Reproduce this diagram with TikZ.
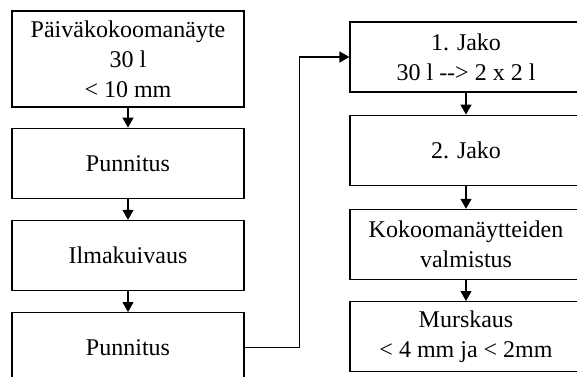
\documentclass[tikz,border=0pt]{standalone}
\usepackage{fontspec}
\setmainfont{Liberation Serif}
\usetikzlibrary{arrows.meta,positioning}

\begin{document}
\begin{tikzpicture}[x=1pt,y=-1pt,->,>={Triangle[length=10pt,width=11pt]},line width=1.2pt,
  node distance=21pt,
  box/.style={draw,rectangle,minimum width=232pt,minimum height=70pt,align=center,
    inner sep=2pt,font=\fontsize{24}{30}\selectfont}]
	  \useasboundingbox (0,0) rectangle (577,376);
	  \clip (0,0) rectangle (577,376);
	  \node[box,minimum height=96pt] (A) at (128,59) {Päiväkokoomanäyte\\30 l\\< 10 mm};
	  \node[box] (B) [below=20pt of A] {Punnitus};
	  \node[box] (C) [below=of B] {Ilmakuivaus};
	  \node[box] (D) [below=of C] {Punnitus};
	  \node[box] (E) at (466,57) {1. Jako\\30 l -{}-> 2 x 2 l};
	  \node[box] (F) [below=22pt of E] {2. Jako};
	  \node[box] (G) [below=23pt of F] {Kokoomanäytteiden\\valmistus};
	  \node[box] (H) [below=of G] {Murskaus\\< 4 mm ja < 2mm};
	  \path
(A) edge (B)
(B) edge (C)
(C) edge (D)
(E) edge (F)
(F) edge (G)
(G) edge (H)
;
	  \draw (D.east) -- ++(55,0) |- (E.west);
	\end{tikzpicture}
\end{document}
